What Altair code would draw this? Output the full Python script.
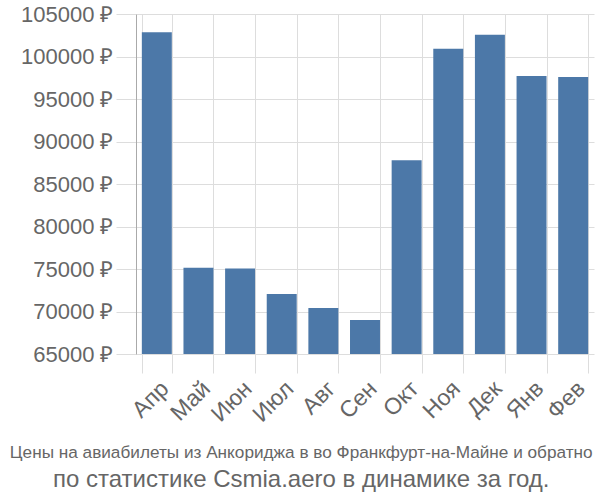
import altair as alt
import pandas as pd

months = ["Апр", "Май", "Июн", "Июл", "Авг", "Сен", "Окт", "Ноя", "Дек", "Янв", "Фев"]
prices = [102850, 75150, 75050, 72050, 70400, 69000, 87800, 100900, 102550, 97700, 97600]
y_ticks = [65000, 70000, 75000, 80000, 85000, 90000, 95000, 100000, 105000]
title_line1 = "Цены на авиабилеты из Анкориджа в во Франкфурт-на-Майне и обратно"
title_line2 = "по статистике Csmia.aero в динамике за год."

df = pd.DataFrame({"month": months, "price": prices})

font = "Liberation Sans"
chart = (
    alt.Chart(df)
    .mark_bar(color="#4c78a8", clip=True)
    .encode(
        x=alt.X(
            "month:N",
            sort=months,
            title=None,
            scale=alt.Scale(paddingInner=0.28, paddingOuter=0.14),
            axis=alt.Axis(
                tickBand="extent",
                labelAngle=-45,
                labelFontSize=23,
                labelColor="#666666",
                labelFont=font,
                tickSize=19,
                tickColor="#dddddd",
                gridColor="#dddddd",
                grid=True,
                domain=False,
                labelPadding=4,
            ),
        ),
        y=alt.Y(
            "price:Q",
            title=None,
            scale=alt.Scale(domain=[65000, 105000], zero=False, nice=False),
            axis=alt.Axis(
                values=y_ticks,
                labelExpr="format(datum.value, 'd') + ' ₽'",
                labelFontSize=22,
                labelColor="#666666",
                labelFont=font,
                tickSize=20,
                tickColor="#dddddd",
                gridColor="#dddddd",
                domainColor="#aaaaaa",
                labelPadding=3,
            ),
        ),
    )
    .properties(
        width=458,
        height=340,
        autosize=alt.AutoSizeParams(type="none"),
        padding={"left": 136, "top": 14, "right": 6, "bottom": 146},
        title=alt.TitleParams(
            text=title_line1,
            subtitle=title_line2,
            orient="bottom",
            anchor="middle",
            frame="bounds",
            font=font,
            fontSize=17.2,
            fontWeight="normal",
            color="#666666",
            subtitleFont=font,
            subtitleFontSize=24,
            subtitleColor="#666666",
            subtitlePadding=7,
            offset=18,
            dx=-6,
        ),
    )
    .configure_view(strokeWidth=0)
)

chart.save("out.html", embed_options={"renderer": "svg", "actions": False})
